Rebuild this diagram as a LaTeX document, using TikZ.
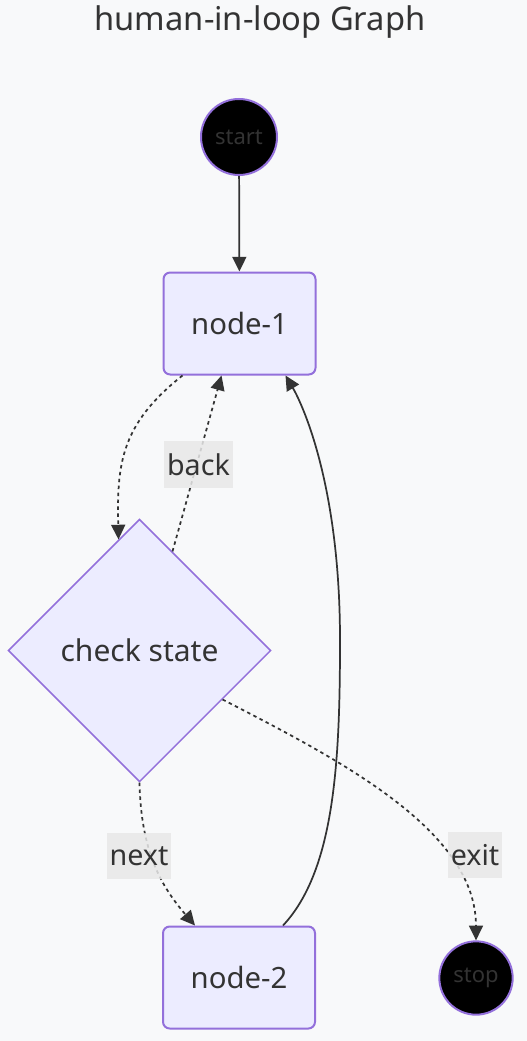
\documentclass[tikz,border=0pt]{standalone}
\usepackage{fontspec}
\setmainfont{Noto Sans}
\usetikzlibrary{shapes.geometric,arrows.meta,calc}
\definecolor{bgcol}{HTML}{F8F9FA}
\definecolor{boxfill}{HTML}{ECECFF}
\definecolor{boxline}{HTML}{9370DB}
\definecolor{inkcol}{HTML}{333333}
\definecolor{tagfill}{HTML}{E8E8E8}
\tikzset{
  statebox/.style={draw=boxline, fill=boxfill, line width=1.5pt, rounded corners=5pt,
    minimum width=114pt, minimum height=76.5pt, text=inkcol, font=\fontsize{22}{25}\selectfont},
  decision/.style={diamond, draw=boxline, fill=boxfill, line width=1.1pt, aspect=1,
    minimum width=197pt, minimum height=197pt, inner sep=0pt, text=inkcol, font=\fontsize{22.5}{25}\selectfont},
  terminal/.style={circle, draw=boxline, fill=black, line width=1.5pt, inner sep=0pt,
    minimum size=57pt, text=inkcol, font=\fontsize{16.5}{18}\selectfont},
  edgetag/.style={fill=tagfill, fill opacity=0.85, text opacity=1, text=inkcol, inner xsep=2pt,
    minimum height=35pt, font=\fontsize{21.5}{24}\selectfont},
  flow/.style={->, draw=inkcol, line width=1.3pt},
  dotflow/.style={dash pattern=on 2.6pt off 2.6pt}
}
\begin{document}
\begin{tikzpicture}[x=0.75pt, y=-0.75pt, >={Triangle[length=11pt, width=10.5pt]}]
  % sfondo
  \fill[bgcol] (0,0) rectangle (527,1041);
  \useasboundingbox (0,0) rectangle (527,1041);

  % titolo
  \node[text=inkcol, font=\fontsize{24.5}{28}\selectfont] (title) at (260,22) {human-in-loop Graph};

  % stati
  \node[terminal] (start) at (239,137) {start};
  \node[statebox] (n1) at (239.5,323.5) {node-1};
  \node[decision] (check) at (139.5,650.5) {check state};
  \node[statebox] (n2) at (239,977.5) {node-2};
  \node[terminal, minimum size=55pt] (stop) at (476,978) {stop};

  % archi
  \draw[flow] (start) -- (n1);
  \draw[flow, dotflow] ($(n1.south)+(-57,0)$) .. controls (120,425) and (117,465) .. ($(check.north)+(-21,21)$);
  \draw[flow, dotflow] ($(check.north)+(33,33)$) -- ($(n1.south)+(-18,0)$);
  \draw[flow] ($(n2.north)+(44,0)$) .. controls (335,870) and (340,760) .. (340,640)
    .. controls (340,480) and (300,400) .. ($(n1.south)+(46,0)$);
  \draw[flow, dotflow] (check.south) .. controls (141,850) and (160,885) .. ($(n2.north)+(-44,0)$);
  \draw[flow, dotflow] ($(check.east)+(-49,49)$) .. controls (340,760) and (476,830) .. (stop.north);

  % etichette
  \node[edgetag] (lback) at (198.5,464.5) {back};
  \node[edgetag] (lnext) at (139,856) {next};
  \node[edgetag] (lexit) at (475,855) {exit};
\end{tikzpicture}
\end{document}
